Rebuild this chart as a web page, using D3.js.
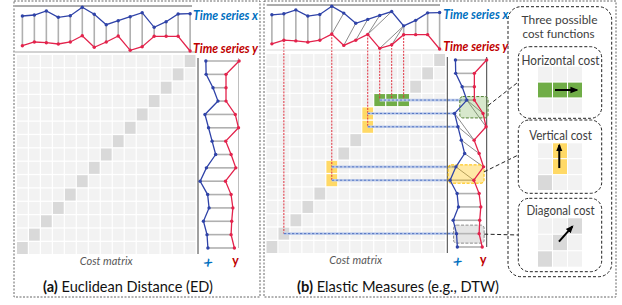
<!DOCTYPE html>
<html>
<head>
<meta charset="utf-8">
<script src="https://cdn.jsdelivr.net/npm/d3@7"></script>
<style>
body { margin: 0; background: #fff; }
svg { display: block; font-family: Lato, "Open Sans", sans-serif; }
</style>
</head>
<body>
<svg width="622" height="305"></svg>
<script>
// values (higher = up in the top plots)
const seriesX = [44, 45, 49, 42.7, 44.3, 52.7, 45.7, 35.3, 39.3, 43.3, 47.3, 32.7, 38.3, 46, 46.3];
const seriesY = [14.3, 18, 17.3, 16, 18, 24.3, 12.7, 18, 24, 9.7, 13.3, 23.7, 23.7, 23.7, 9];
const steps = d3.range(15);

// alignment paths, [column (y index), row (x index)]
const edPath = steps.map(i => [i, i]);
const dtwPath = [[0,0],[1,1],[2,2],[3,3],[4,4],[5,5],[5,6],[6,7],[7,8],[8,9],[8,10],[9,11],[10,11],[11,11],[12,12],[13,13],[14,14]];
const linkCells = [[1,1],[5,5],[5,6],[8,9],[8,10],[9,11],[10,11],[11,11]];

// mini grids of the three cost functions, [col, row] with row 0 at the bottom
const horizCells = [[0,1,'h'],[1,1,'h'],[2,1,'h']];
const vertCells = [[1,1,'v'],[1,2,'v'],[0,0,'d']];
const diagCells = [[0,0,'d'],[1,1,'d'],[2,2,'d']];

const BLUE = '#2f43a8', RED = '#e3234c';
const fills = { d: '#d9d9d9', h: '#70ad47', v: '#ffd966', n: '#f2f2f2' };

const svg = d3.select('svg');

svg.append('defs').append('marker')
    .attr('id', 'arr').attr('viewBox', '0 0 10 10')
    .attr('refX', 8).attr('refY', 5)
    .attr('markerWidth', 4).attr('markerHeight', 4)
    .attr('orient', 'auto')
    .append('path').attr('d', 'M0,1L10,5L0,9z').attr('fill', '#000');

// outer dashed frames
svg.append('rect').attr('x', 14).attr('y', 1).attr('width', 246).attr('height', 296)
    .attr('fill', 'none').attr('stroke', '#666').attr('stroke-dasharray', '2,1.5');
svg.append('rect').attr('x', 264).attr('y', 1).attr('width', 352).attr('height', 296)
    .attr('fill', 'none').attr('stroke', '#666').attr('stroke-dasharray', '2,1.5');

function panel(cfg) {
    const g = svg.append('g');
    const col = d3.scaleBand().domain(steps).range([cfg.mx, cfg.mx + 178.5]).paddingInner(0.1);
    const row = d3.scaleBand().domain(steps).range([cfg.my + 199, cfg.my]).paddingInner(0.1);
    const cx = i => col(i) + col.bandwidth() / 2;
    const cy = i => row(i) + row.bandwidth() / 2;
    const vTop = d3.scaleLinear().domain([8, 54]).range(cfg.topRange);
    const vSide = d3.scaleLinear().domain([8, 54]).range(cfg.sideRange);

    const path = cfg.path;
    const kind = ([c, r]) => {
        if (!cfg.colored) return 'd';
        if (path.filter(p => p[0] === c).length > 1) return 'v';
        if (path.filter(p => p[1] === r).length > 1) return 'h';
        return 'd';
    };
    const cells = [];
    steps.forEach(r => steps.forEach(c => {
        const p = path.find(q => q[0] === c && q[1] === r);
        cells.push({ c, r, k: p ? kind(p) : 'n' });
    }));

    // cost matrix
    g.selectAll('rect.cell').data(cells).enter().append('rect')
        .attr('x', d => col(d.c)).attr('y', d => row(d.r))
        .attr('width', col.bandwidth()).attr('height', row.bandwidth())
        .attr('fill', d => fills[d.k]);

    g.append('text').attr('x', cx(7)).attr('y', cfg.my + 210)
        .attr('text-anchor', 'middle').attr('font-size', 11).attr('font-style', 'italic')
        .attr('fill', '#595959').text('Cost matrix');

    // link lines from the matrix to the series
    if (cfg.links) {
        const cols = d3.groups(cfg.links, d => d[0]);
        cols.forEach(([c, list]) => {
            const r = d3.min(list, d => d[1]);
            g.append('line').attr('x1', cx(c)).attr('x2', cx(c))
                .attr('y1', vTop(seriesY[c])).attr('y2', cy(r))
                .attr('stroke', '#e0303f').attr('stroke-width', 1).attr('stroke-dasharray', '2,1.2');
        });
        const rows = d3.groups(cfg.links, d => d[1]);
        rows.forEach(([r, list]) => {
            const c = d3.min(list, d => d[0]);
            g.append('line').attr('x1', cx(c)).attr('x2', vSide(seriesX[r]))
                .attr('y1', cy(r)).attr('y2', cy(r))
                .attr('stroke', '#c3d0ec').attr('stroke-width', 2.6);
            g.append('line').attr('x1', cx(c)).attr('x2', vSide(seriesX[r]))
                .attr('y1', cy(r)).attr('y2', cy(r))
                .attr('stroke', '#4f72c2').attr('stroke-width', 1).attr('stroke-dasharray', '2.5,1.5');
        });
    }

    // top plot
    g.append('line').attr('x1', cfg.topLine[0]).attr('x2', cfg.topLine[1])
        .attr('y1', cfg.topRange[1]).attr('y2', cfg.topRange[1]).attr('stroke', '#595959');
    g.append('line').attr('x1', cfg.topLine[0]).attr('x2', cfg.topLine[1] + 3)
        .attr('y1', cfg.topRange[0]).attr('y2', cfg.topRange[0]).attr('stroke', cfg.bottomLineColor);

    const straight = d => d[0] === d[1];
    g.selectAll('line.tc').data(path).enter().append('line')
        .attr('x1', d => cx(d[1])).attr('y1', d => vTop(seriesX[d[1]]))
        .attr('x2', d => cx(d[0])).attr('y2', d => vTop(seriesY[d[0]]))
        .attr('stroke', d => straight(d) ? '#b0b0b0' : '#8c8c8c')
        .attr('stroke-width', d => straight(d) ? 1.6 : 1);

    const lineTop = d3.line().x((d, i) => cx(i)).y(d => vTop(d));
    [[seriesX, BLUE], [seriesY, RED]].forEach(([s, color]) => {
        g.append('path').attr('d', lineTop(s)).attr('fill', 'none')
            .attr('stroke', color).attr('stroke-width', 1.3);
        g.selectAll(null).data(s).enter().append('circle')
            .attr('cx', (d, i) => cx(i)).attr('cy', d => vTop(d)).attr('r', 1.7).attr('fill', color);
    });

    g.append('text').attr('x', cfg.labelX).attr('y', cfg.topRange[1] + 13.5)
        .attr('font-size', 13.5).attr('font-weight', 'bold').attr('font-style', 'italic')
        .attr('fill', '#0070c0').attr('textLength', 65).attr('lengthAdjust', 'spacingAndGlyphs')
        .text('Time series x');
    g.append('text').attr('x', cfg.labelX).attr('y', cfg.topRange[0] + 0.5)
        .attr('font-size', 13.5).attr('font-weight', 'bold').attr('font-style', 'italic')
        .attr('fill', '#c00000').attr('textLength', 65).attr('lengthAdjust', 'spacingAndGlyphs')
        .text('Time series y');

    // side plot (same series turned on its side)
    const sy0 = cfg.my + 3, sy1 = cfg.my + 199;
    g.append('line').attr('x1', cfg.sideLines[0]).attr('x2', cfg.sideLines[0])
        .attr('y1', sy0).attr('y2', sy1).attr('stroke', '#404040');
    g.append('line').attr('x1', cfg.sideLines[1]).attr('x2', cfg.sideLines[1])
        .attr('y1', sy0).attr('y2', sy1 - 6).attr('stroke', cfg.sideRightColor);

    g.selectAll('line.sc').data(path).enter().append('line')
        .attr('x1', d => vSide(seriesX[d[1]])).attr('y1', d => cy(d[1]))
        .attr('x2', d => vSide(seriesY[d[0]])).attr('y2', d => cy(d[0]))
        .attr('stroke', d => straight(d) ? '#b0b0b0' : '#8c8c8c')
        .attr('stroke-width', d => straight(d) ? 1.6 : 1);

    if (cfg.boxes) {
        cfg.boxes.forEach(b => {
            const x0 = vSide(seriesX[b.bx]) + b.pad[0], x1 = vSide(seriesY[b.rx]) + b.pad[1];
            const y0 = cy(b.rows[1]) + b.pad[2], y1 = cy(b.rows[0]) + b.pad[3];
            g.append('rect').attr('x', x0).attr('y', y0).attr('width', x1 - x0).attr('height', y1 - y0)
                .attr('rx', 3).attr('fill', b.fill).attr('stroke', b.stroke)
                .attr('stroke-dasharray', '3,1.5').attr('stroke-width', 1);
            g.append('line').attr('x1', x1).attr('y1', b.lineY ? b.lineY(y0, y1) : (y0 + y1) / 2)
                .attr('x2', 518.3).attr('y2', b.to)
                .attr('stroke', '#222').attr('stroke-dasharray', '4,2.5').attr('stroke-width', 1);
        });
    }

    const lineSide = d3.line().x(d => vSide(d)).y((d, i) => cy(i));
    [[seriesX, BLUE], [seriesY, RED]].forEach(([s, color]) => {
        g.append('path').attr('d', lineSide(s)).attr('fill', 'none')
            .attr('stroke', color).attr('stroke-width', 1.3);
        g.selectAll(null).data(s).enter().append('circle')
            .attr('cx', d => vSide(d)).attr('cy', (d, i) => cy(i)).attr('r', 1.7).attr('fill', color);
    });

    g.append('text').attr('transform', `translate(${vSide(seriesX[0]) + 1},${sy1 + 8}) rotate(45)`)
        .attr('text-anchor', 'middle').attr('font-size', 12.5).attr('font-weight', 'bold')
        .attr('fill', '#0070c0').attr('dy', '0.35em').text('x');
    g.append('text').attr('transform', `translate(${vSide(seriesY[0]) + 1},${sy1 + 8}) rotate(180)`)
        .attr('text-anchor', 'middle').attr('font-size', 12.5).attr('font-weight', 'bold')
        .attr('fill', '#c00000').attr('dy', '0.35em').text('ʎ');

    // caption
    const cap = g.append('text').attr('x', cfg.capX[0]).attr('y', 292)
        .attr('font-size', 15).attr('fill', '#111')
        .attr('textLength', cfg.capX[1] - cfg.capX[0]).attr('lengthAdjust', 'spacingAndGlyphs');
    cap.append('tspan').attr('font-weight', 'bold').text(cfg.cap[0]);
    cap.append('tspan').text(cfg.cap[1]);
}

panel({
    mx: 17, my: 55, path: edPath, colored: false,
    topRange: [52, 6], sideRange: [240, 199],
    topLine: [15, 192], bottomLineColor: '#a6a6a6',
    sideLines: [198, 238.5], sideRightColor: '#bfbfbf',
    labelX: 193, capX: [43, 213], cap: ['(a)', ' Euclidean Distance (ED)']
});

panel({
    mx: 266.5, my: 54, path: dtwPath, colored: true, links: linkCells,
    topRange: [50, 5], sideRange: [487.5, 449],
    topLine: [266.7, 440], bottomLineColor: '#d9d9d9',
    sideLines: [447.3, 486.7], sideRightColor: '#404040',
    labelX: 443.3, capX: [297, 499], cap: ['(b)', ' Elastic Measures (e.g., DTW)'],
    boxes: [
        { bx: 11, rx: 9, rows: [10, 11], pad: [-7, 2, -3.5, 4.5], fill: 'rgba(112,173,71,0.28)', stroke: '#548235', to: 82, lineY: (a, b) => a + 9 },
        { bx: 5, rx: 6, rows: [5, 6], pad: [-2, 0.5, -2, 3], fill: 'rgba(255,192,0,0.35)', stroke: '#ffc000', to: 155, lineY: (a, b) => a + 7 },
        { bx: 1, rx: 1, rows: [1, 1], pad: [-3, 5, -8.5, 9.5], fill: 'rgba(191,191,191,0.4)', stroke: '#8c8c8c', to: 235 }
    ]
});

// three possible cost functions
const costG = svg.append('g');
costG.append('rect').attr('x', 508).attr('y', 6.7).attr('width', 103.7).attr('height', 270)
    .attr('rx', 13).attr('fill', 'none').attr('stroke', '#222').attr('stroke-dasharray', '3,2');
costG.append('text').attr('x', 559.5).attr('y', 23.5).attr('text-anchor', 'middle')
    .attr('font-size', 12).attr('fill', '#404040').attr('textLength', 76).attr('lengthAdjust', 'spacingAndGlyphs')
    .text('Three possible');
costG.append('text').attr('x', 558.5).attr('y', 37.5).attr('text-anchor', 'middle')
    .attr('font-size', 12).attr('fill', '#404040').attr('textLength', 72).attr('lengthAdjust', 'spacingAndGlyphs')
    .text('cost functions');

const costBoxes = [
    { title: 'Horizontal cost', tw: 78, y0: 46.7, y1: 118.3, ty: 65, gy: [66.7, 113.3], cells: horizCells, arrow: [[1.16, 1.5], [2.65, 1.5]] },
    { title: 'Vertical cost', tw: 62.7, y0: 120, y1: 193.3, ty: 140, gy: [143.3, 190], cells: vertCells, arrow: [[1.45, 1.41], [1.45, 2.89]] },
    { title: 'Diagonal cost', tw: 68, y0: 198.3, y1: 271.7, ty: 215, gy: [218.3, 266.7], cells: diagCells, arrow: [[1.43, 1.55], [2.35, 2.5]] }
];
const mini = [0, 1, 2];
costBoxes.forEach(b => {
    costG.append('rect').attr('x', 518.3).attr('y', b.y0).attr('width', 83.4).attr('height', b.y1 - b.y0)
        .attr('rx', 11).attr('fill', '#fff').attr('stroke', '#222').attr('stroke-dasharray', '3,2');
    costG.append('text').attr('x', 560.5).attr('y', b.ty).attr('text-anchor', 'middle')
        .attr('font-size', 13).attr('fill', '#404040').attr('textLength', b.tw).attr('lengthAdjust', 'spacingAndGlyphs')
        .text(b.title);
    const gx = d3.scaleBand().domain(mini).range([538, 582]).paddingInner(0.07);
    const gy = d3.scaleBand().domain(mini).range([b.gy[1], b.gy[0]]).paddingInner(0.07);
    const cellsData = [];
    mini.forEach(r => mini.forEach(c => {
        const f = b.cells.find(q => q[0] === c && q[1] === r);
        cellsData.push({ c, r, k: f ? f[2] : 'n' });
    }));
    costG.selectAll(null).data(cellsData).enter().append('rect')
        .attr('x', d => gx(d.c)).attr('y', d => gy(d.r))
        .attr('width', gx.bandwidth()).attr('height', gy.bandwidth())
        .attr('fill', d => fills[d.k]);
    const ux = d3.scaleLinear().domain([0, 3]).range([538, 582]);
    const uy = d3.scaleLinear().domain([0, 3]).range([b.gy[1], b.gy[0]]);
    costG.append('line')
        .attr('x1', ux(b.arrow[0][0])).attr('y1', uy(b.arrow[0][1]))
        .attr('x2', ux(b.arrow[1][0])).attr('y2', uy(b.arrow[1][1]))
        .attr('stroke', '#000').attr('stroke-width', 2).attr('marker-end', 'url(#arr)');
});
</script>
</body>
</html>
